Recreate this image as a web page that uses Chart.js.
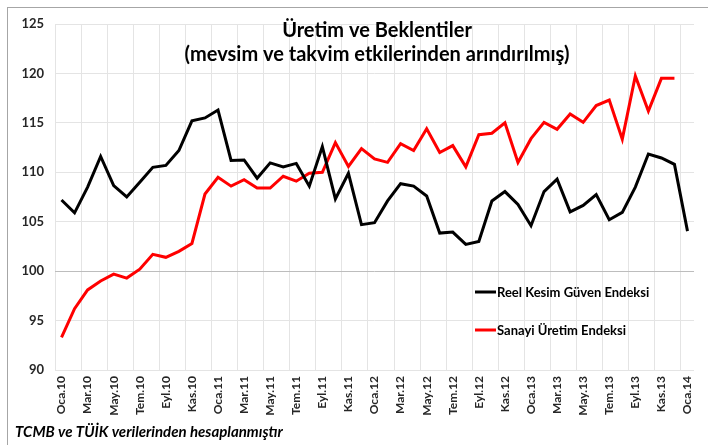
<!DOCTYPE html>
<html>
<head>
<meta charset="utf-8">
<script src="https://cdn.jsdelivr.net/npm/chart.js@4.4.1/dist/chart.umd.min.js"></script>
<style>
  html, body { margin: 0; padding: 0; background: #fff; }
  #wrap { position: relative; width: 708px; height: 445px; }
  #frame { position: absolute; left: 7px; top: 7px; width: 720px; height: 460px;
           border: 1px solid #a6a6a6; pointer-events: none; }
</style>
</head>
<body>
<div id="wrap">
  <canvas id="chart" width="708" height="445"></canvas>
  <div id="frame"></div>
</div>
<script>
// months, Oca.10 .. Oca.14
const months = [
  "Oca.10","Şub.10","Mar.10","Nis.10","May.10","Haz.10","Tem.10","Ağu.10","Eyl.10","Eki.10","Kas.10","Ara.10",
  "Oca.11","Şub.11","Mar.11","Nis.11","May.11","Haz.11","Tem.11","Ağu.11","Eyl.11","Eki.11","Kas.11","Ara.11",
  "Oca.12","Şub.12","Mar.12","Nis.12","May.12","Haz.12","Tem.12","Ağu.12","Eyl.12","Eki.12","Kas.12","Ara.12",
  "Oca.13","Şub.13","Mar.13","Nis.13","May.13","Haz.13","Tem.13","Ağu.13","Eyl.13","Eki.13","Kas.13","Ara.13",
  "Oca.14"
];

// Reel Kesim Güven Endeksi
const reelKesim = [
  107.2, 105.9, 108.5, 111.6, 108.65, 107.5, 109.0, 110.5, 110.7, 112.2, 115.2, 115.5,
  116.3, 111.2, 111.25, 109.4, 110.95, 110.55, 110.9, 108.6, 112.6, 107.3, 109.9, 104.7,
  104.9, 107.1, 108.85, 108.6, 107.6, 103.85, 103.95, 102.7, 103.0, 107.1, 108.05, 106.75,
  104.6, 108.05, 109.3, 106.0, 106.65, 107.75, 105.2, 105.95, 108.5, 111.85, 111.45, 110.8,
  104.05
];

// Sanayi Üretim Endeksi (no value for Oca.14)
const sanayiUretim = [
  93.3, 96.2, 98.1, 99.0, 99.7, 99.3, 100.2, 101.7, 101.4, 102.0, 102.8, 107.8,
  109.5, 108.6, 109.25, 108.4, 108.4, 109.6, 109.1, 109.9, 110.0, 113.0, 110.6, 112.4,
  111.35, 111.0, 112.9, 112.2, 114.4, 112.0, 112.7, 110.55, 113.8, 113.95, 115.0, 111.0,
  113.4, 115.05, 114.35, 115.9, 115.05, 116.75, 117.3, 113.35, 119.75, 116.2, 119.5, 119.5,
  null
];

const seriesNames = ["Reel Kesim Güven Endeksi", "Sanayi Üretim Endeksi"];
const titleLines = ["Üretim ve Beklentiler", "(mevsim ve takvim etkilerinden arındırılmış)"];
const footnote = "TCMB ve TÜİK verilerinden hesaplanmıştır";

const FONT = "Lato, 'Open Sans', sans-serif";
const textColor = "#262626";

// title, legend and footnote drawn on top of the plot
const overlay = {
  id: "overlay",
  afterDraw(chart) {
    const c = chart.ctx;
    c.save();
    c.fillStyle = "#000";
    c.textAlign = "center";
    c.textBaseline = "alphabetic";
    c.font = "bold 20px " + FONT;
    c.fillText(titleLines[0], 377, 37);
    c.fillText(titleLines[1], 377, 61);

    // legend
    c.textAlign = "left";
    c.font = "bold 13px " + FONT;
    const rows = [292, 330];
    chart.data.datasets.forEach((ds, i) => {
      c.strokeStyle = ds.borderColor;
      c.lineWidth = 3;
      c.beginPath();
      c.moveTo(475, rows[i]);
      c.lineTo(496, rows[i]);
      c.stroke();
      c.fillStyle = "#000";
      c.fillText(ds.label, 497, rows[i] + 5);
    });

    // source note
    c.font = "italic bold 15px " + FONT;
    c.fillText(footnote, 15, 437);
    c.restore();
  }
};

new Chart(document.getElementById("chart"), {
  type: "line",
  plugins: [overlay],
  data: {
    labels: months,
    datasets: [
      {
        label: seriesNames[0],
        data: reelKesim,
        borderColor: "#000000",
        backgroundColor: "#000000",
        borderWidth: 3,
        pointRadius: 0,
        tension: 0
      },
      {
        label: seriesNames[1],
        data: sanayiUretim,
        borderColor: "#ff0000",
        backgroundColor: "#ff0000",
        borderWidth: 3,
        pointRadius: 0,
        tension: 0
      }
    ]
  },
  options: {
    responsive: false,
    animation: false,
    layout: { padding: { top: 24, right: 10, left: 0, bottom: 0 } },
    plugins: {
      legend: { display: false },
      title: { display: false },
      tooltip: { enabled: false }
    },
    scales: {
      x: {
        offset: true,
        border: { display: false },
        grid: {
          offset: true,
          drawTicks: false,
          color: (ctx) => (ctx.index % 2 === 0 ? "#e4e4e4" : "rgba(0,0,0,0)")
        },
        ticks: {
          autoSkip: false,
          maxRotation: 90,
          minRotation: 90,
          padding: 6,
          color: textColor,
          font: { family: FONT, size: 12, weight: "bold" },
          callback: (v, i) => (i % 2 === 0 ? months[i] : "")
        },
        afterFit: (s) => { s.height = 75; }
      },
      y: {
        min: 90,
        max: 125,
        border: { display: false },
        grid: {
          drawTicks: false,
          color: (ctx) => (ctx.tick && ctx.tick.value === 100 ? "#bdbdbd" : "#e4e4e4")
        },
        ticks: {
          stepSize: 5,
          padding: 11,
          color: textColor,
          font: { family: FONT, size: 13, weight: "bold" }
        },
        afterFit: (s) => { s.width = 55; }
      }
    }
  }
});
</script>
</body>
</html>
